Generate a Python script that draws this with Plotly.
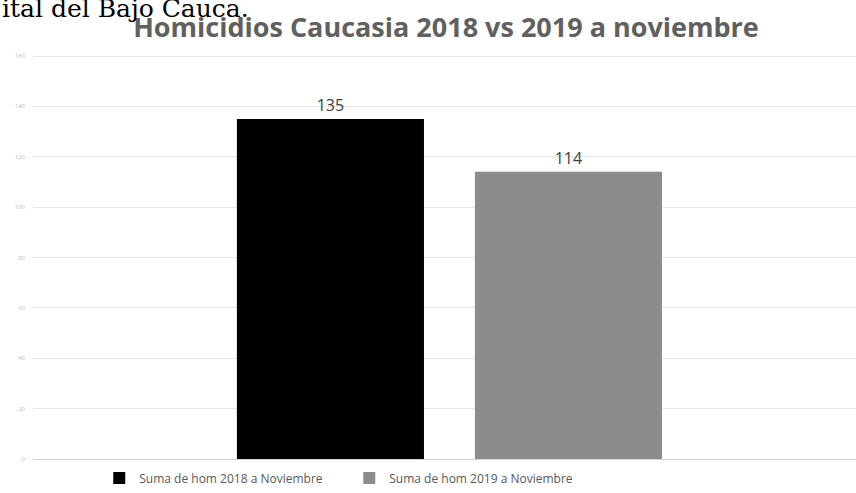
import plotly.graph_objects as go

categories = [""]
series_names = ["Suma de hom 2018 a Noviembre", "Suma de hom 2019 a Noviembre"]
values_2018 = [135]
values_2019 = [114]
colors = ["#000000", "#8c8c8c"]
tick_vals = [0, 20, 40, 60, 80, 100, 120, 140, 160]

fig = go.Figure()
for name, vals, col in zip(series_names, [values_2018, values_2019], colors):
    fig.add_trace(go.Bar(
        x=categories, y=vals, name=name,
        marker=dict(color=col, line=dict(width=0)),
        text=[str(v) for v in vals], textposition="outside",
        textfont=dict(family="Open Sans", size=16, color="#404040"),
        cliponaxis=False,
    ))

fig.update_layout(
    width=856, height=493,
    paper_bgcolor="white", plot_bgcolor="white",
    margin=dict(l=33, r=0, t=55, b=34, autoexpand=False),
    barmode="group", bargap=0.4216, bargroupgap=0.214,
    title=dict(
        text="<b>Homicidios Caucasia 2018 vs 2019 a noviembre</b>",
        font=dict(family="Open Sans", size=27, color="#606060"),
        x=446 / 856, xanchor="center", y=1 - 28 / 493, yanchor="middle",
    ),
    showlegend=True,
    legend=dict(
        orientation="h", x=0.072 + 7 / 823, xanchor="left", y=-0.047, yanchor="middle",
        font=dict(family="Open Sans", size=12, color="#595959"),
        itemwidth=30, traceorder="normal", entrywidth=205, entrywidthmode="pixels",
    ),
    font=dict(family="Open Sans"),
)
fig.update_xaxes(range=[-0.506, 0.494], showticklabels=False, showgrid=False,
                 zeroline=False, showline=False)
fig.update_yaxes(range=[0, 160.4], tickvals=tick_vals, showgrid=True,
                 gridcolor="#e6e6e6", gridwidth=1, zeroline=True,
                 zerolinecolor="#d4d4d4", zerolinewidth=1,
                 tickfont=dict(size=6, color="#bdbdbd"), ticks="", ticklabelstandoff=7)

fig.add_annotation(
    text="ital del Bajo Cauca.", xref="paper", yref="paper",
    x=-33 / 823, xanchor="left", y=1 + (55 - 9) / 404, yanchor="middle",
    showarrow=False, font=dict(family="DejaVu Serif", size=25, color="#000000"),
)

fig.write_html(
    "out.html",
    config={"displayModeBar": False},
    post_script="document.body.style.margin='0';document.body.style.padding='0';"
                "document.documentElement.style.overflow='hidden';",
)
